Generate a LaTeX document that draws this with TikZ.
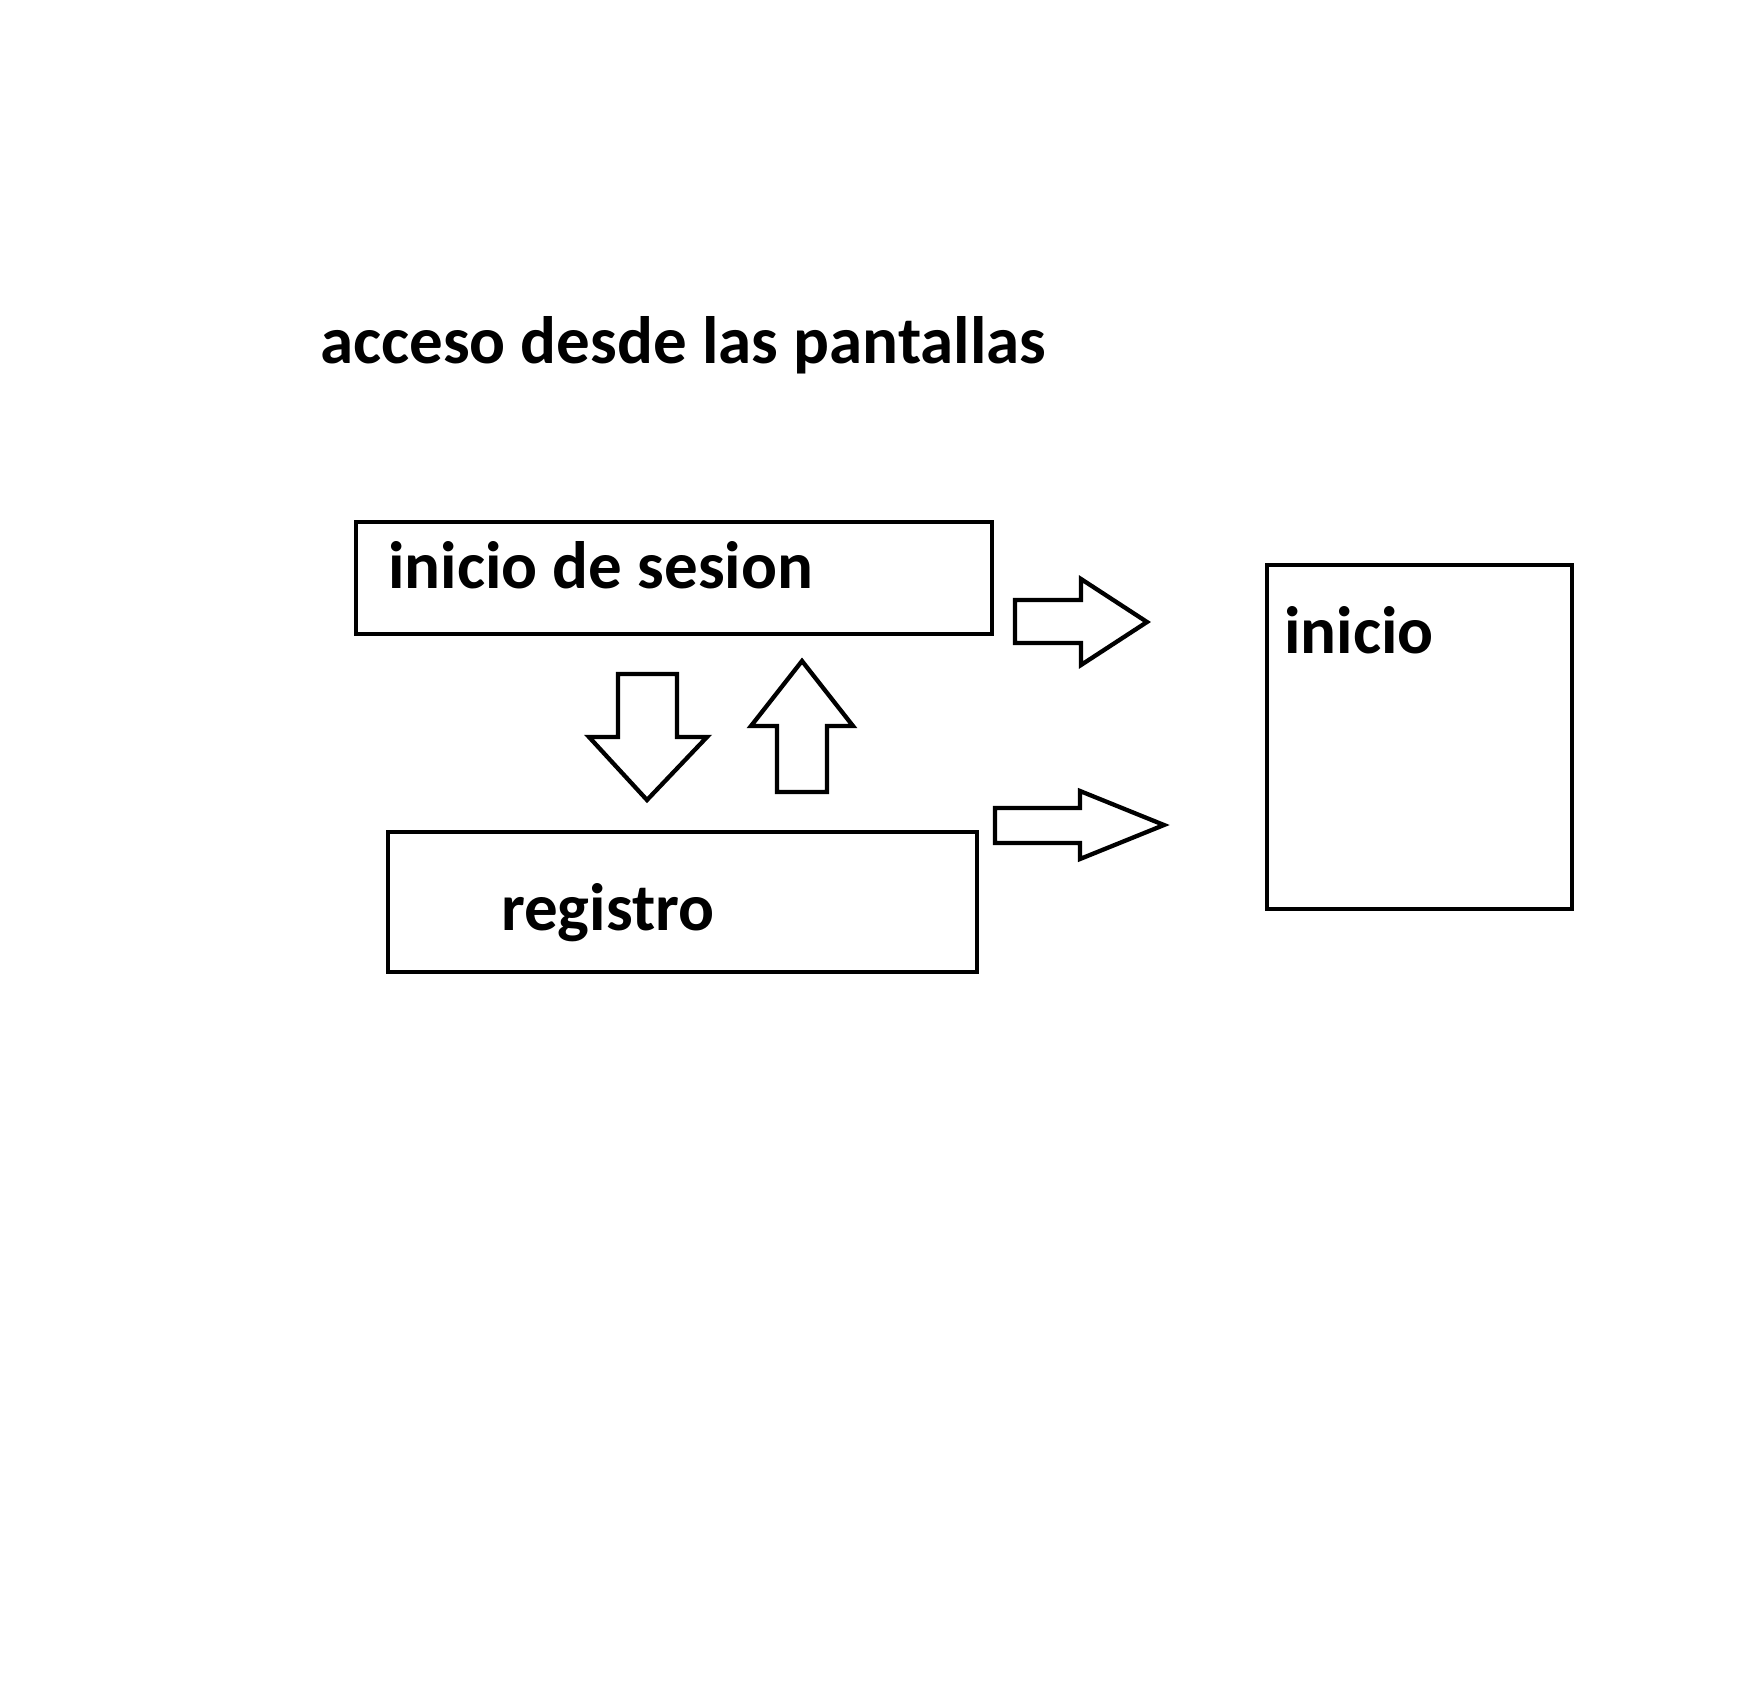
\documentclass[tikz,border=0pt]{standalone}
\usepackage{fontspec}
\setmainfont{Carlito}
\begin{document}
\begin{tikzpicture}[x=1pt,y=-1pt,
  screen/.style={draw=black,line width=4.3pt,inner sep=0pt,rectangle},
  lbl/.style={anchor=base west,inner sep=0pt,font=\fontsize{67}{80}\selectfont\bfseries},
  blockarrow/.style={draw=black,line width=4.3pt,line join=miter,fill=white}]
\useasboundingbox[fill=white] (0,0) rectangle (1760,1704);
% title
\node[lbl] (title) at (320,363) {acceso desde las pantallas};
% screens
\node[screen,minimum width=636pt,minimum height=112pt] (sesion) at (674,578) {};
\node[lbl] (t1) at (388,588) {inicio de sesion};
\node[screen,minimum width=589pt,minimum height=140pt] (registro) at (682.5,902) {};
\node[lbl] (t2) at (501,930) {registro};
\node[screen,minimum width=305pt,minimum height=344pt] (inicio) at (1419.5,737) {};
\node[lbl] (t3) at (1284,653) {inicio};
% block arrows
\draw[blockarrow] (1015,600) -- (1081,600) -- (1081,579) -- (1147,622) -- (1081,665) -- (1081,643) -- (1015,643) -- cycle;
\draw[blockarrow] (995,808) -- (1080,808) -- (1080,791) -- (1164,825) -- (1080,859) -- (1080,843) -- (995,843) -- cycle;
\draw[blockarrow] (618,674) -- (677,674) -- (677,737) -- (707,737) -- (647,800) -- (589,737) -- (618,737) -- cycle;
\draw[blockarrow] (802,661) -- (853,726) -- (827,726) -- (827,792) -- (777,792) -- (777,726) -- (751,726) -- cycle;
\end{tikzpicture}
\end{document}
